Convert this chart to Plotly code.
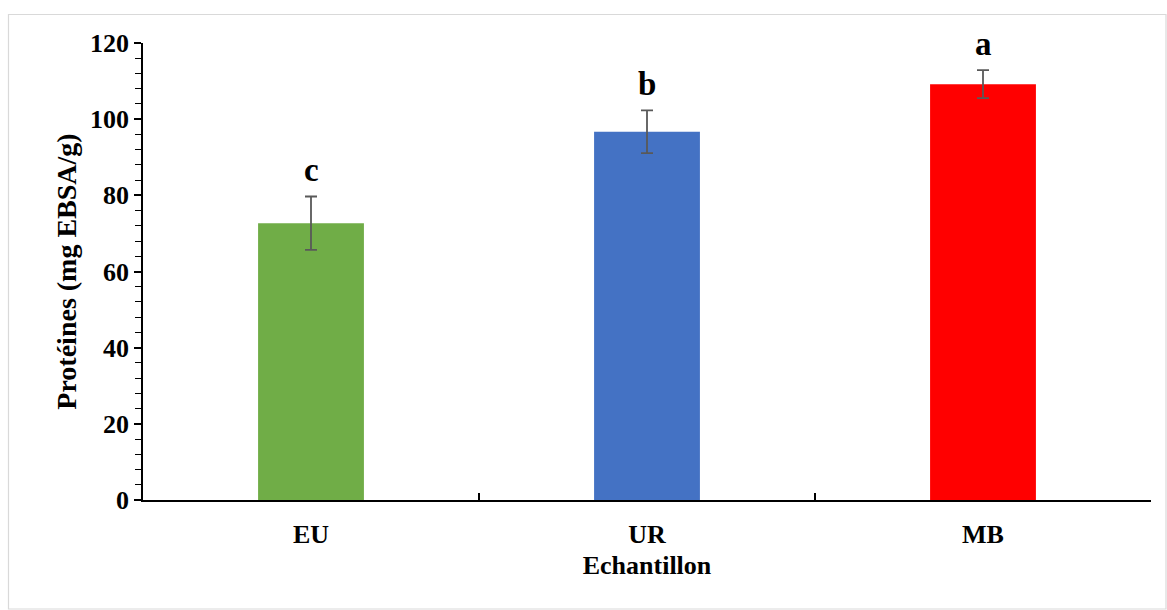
import plotly.graph_objects as go

# Protein content per sample (mg EBSA/g), with standard deviations
samples = ["EU", "UR", "MB"]
protein = [72.7, 96.7, 109.2]
protein_sd = [7.0, 5.6, 3.7]
groups = ["c", "b", "a"]
bar_colors = ["#70AD47", "#4472C4", "#FF0000"]

W, H = 1167, 610
L, R, T, B = 143, 16, 43, 110
plot_w = W - L - R
plot_h = H - T - B

FONT = "Liberation Serif, Times New Roman, serif"

fig = go.Figure(
    go.Bar(
        x=samples,
        y=protein,
        width=0.315,
        marker=dict(color=bar_colors, line=dict(width=0)),
        error_y=dict(
            type="data",
            array=protein_sd,
            visible=True,
            color="#595959",
            thickness=1.8,
            width=6,
        ),
        showlegend=False,
    )
)

# Significance letters above each error bar
for s, v, e, g in zip(samples, protein, protein_sd, groups):
    fig.add_annotation(
        x=s, y=v + e, text=g, showarrow=False,
        yanchor="middle", yshift=26,
        font=dict(family=FONT, size=33, color="black", weight="bold"),
    )

# Outer chart frame
def px_to_paper_x(px):
    return (px - L) / plot_w

def px_to_paper_y(py):
    return (H - B - py) / plot_h

fig.add_shape(
    type="rect", xref="paper", yref="paper",
    x0=px_to_paper_x(8.5), x1=px_to_paper_x(1166),
    y0=px_to_paper_y(609), y1=px_to_paper_y(14.5),
    line=dict(color="#D9D9D9", width=1.2),
    fillcolor="rgba(0,0,0,0)", layer="below",
)

fig.update_layout(
    width=W, height=H,
    margin=dict(l=L, r=R, t=T, b=B),
    paper_bgcolor="white", plot_bgcolor="white",
    font=dict(family=FONT, color="black"),
    xaxis=dict(
        type="category",
        range=[-0.5, 2.5],
        showline=True, linecolor="black", linewidth=1.5,
        ticks="inside", tickson="boundaries", ticklen=7,
        tickcolor="black", tickwidth=1.5,
        ticklabelstandoff=10,
        tickfont=dict(family=FONT, size=26, weight="bold", color="black"),
        title=dict(text="Echantillon", standoff=8,
                   font=dict(family=FONT, size=26, weight="bold", color="black")),
        showgrid=False, zeroline=False,
    ),
    yaxis=dict(
        range=[0, 120],
        tickmode="linear", tick0=0, dtick=20,
        showline=True, linecolor="black", linewidth=1.5,
        ticks="outside", ticklen=7, tickcolor="black", tickwidth=1.5,
        minor=dict(dtick=4, ticks="outside", ticklen=6,
                   tickcolor="black", tickwidth=1.2, showgrid=False),
        tickfont=dict(family=FONT, size=26, weight="bold", color="black"),
        title=dict(text="Protéines (mg EBSA/g)", standoff=5,
                   font=dict(family=FONT, size=28, weight="bold", color="black")),
        showgrid=False, zeroline=False,
    ),
)

fig.write_html("out.html")
